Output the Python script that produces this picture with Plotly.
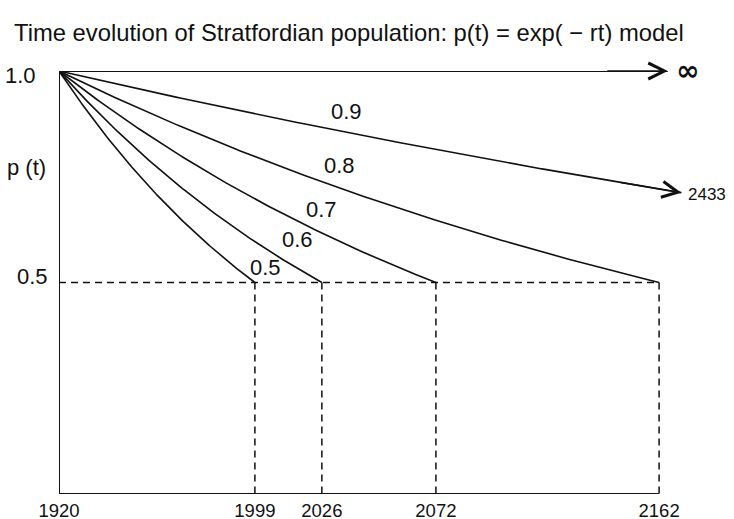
import numpy as np
import plotly.graph_objects as go

# ---------------- data ----------------
start_year = 1920
p_start = 1.0
p_half = 0.5
curve_labels = ["0.5", "0.6", "0.7", "0.8"]
half_years = [1999, 2026, 2072, 2162]          # year at which p(t) reaches 0.5
offchart_label = "0.9"
offchart_half_year = 2433                        # reaches 0.5 beyond the chart
infinite_label = "\u221e"                        # r = 0: p stays at 1.0
x_tick_years = [1920, 1999, 2026, 2072, 2162]
y_tick_vals = [1.0, 0.5]
y_tick_text = ["1.0", "0.5"]

# ---------------- drawing constants ----------------
FONT = "Liberation Sans"
INK = "#111111"
X_MAX = 2178.5        # right end of the x range
END_09 = 2171         # where the 0.9 curve's arrow stops
END_INF = 2165.5      # where the p = 1 arrow stops
DASH = "7px,5px"
W, H = 734, 519


def p_model(t, half_year):
    r = np.log(2) / (half_year - start_year)
    return p_start * np.exp(-r * (np.asarray(t, dtype=float) - start_year))


fig = go.Figure()

# dashed guides at p = 0.5
fig.add_trace(go.Scatter(x=[start_year, max(half_years)], y=[p_half, p_half], mode="lines",
                         line=dict(color=INK, width=1.5, dash=DASH), hoverinfo="skip"))
for T in half_years:
    fig.add_trace(go.Scatter(x=[T, T], y=[p_half, 0], mode="lines",
                             line=dict(color=INK, width=1.5, dash=DASH), hoverinfo="skip"))

# axes drawn as lines
fig.add_trace(go.Scatter(x=[start_year, start_year], y=[0, p_start], mode="lines",
                         line=dict(color=INK, width=2), hoverinfo="skip"))
fig.add_trace(go.Scatter(x=[start_year, max(half_years)], y=[0, 0], mode="lines",
                         line=dict(color=INK, width=2), hoverinfo="skip"))

# decay curves reaching 0.5 inside the chart
for lab, T in zip(curve_labels, half_years):
    t = np.linspace(start_year, T, 150)
    fig.add_trace(go.Scatter(x=t, y=p_model(t, T), mode="lines",
                             line=dict(color=INK, width=1.6), name=lab, hoverinfo="skip"))

# 0.9 curve (half-life beyond chart)
t9 = np.linspace(start_year, END_09, 150)
fig.add_trace(go.Scatter(x=t9, y=p_model(t9, offchart_half_year), mode="lines",
                         line=dict(color=INK, width=1.6), name=offchart_label, hoverinfo="skip"))

# p = 1 line (r = 0)
fig.add_trace(go.Scatter(x=[start_year, END_INF], y=[p_start, p_start], mode="lines",
                         line=dict(color=INK, width=2), hoverinfo="skip"))


# arrow heads
def arrow(x_end, y_fn):
    fig.add_annotation(x=x_end, y=y_fn(x_end), ax=x_end - 25, ay=y_fn(x_end - 25),
                       xref="x", yref="y", axref="x", ayref="y", text="",
                       showarrow=True, arrowhead=5, arrowsize=2.1, arrowwidth=1.5,
                       arrowcolor=INK, standoff=0)


arrow(END_09, lambda t: float(p_model(t, offchart_half_year)))
arrow(END_INF, lambda t: p_start)

fig.add_annotation(x=END_09, y=float(p_model(END_09, offchart_half_year)), text=str(offchart_half_year),
                   xref="x", yref="y", showarrow=False, xanchor="left", xshift=5, yshift=-2,
                   font=dict(family=FONT, size=17, color=INK))
fig.add_annotation(x=END_INF, y=p_start, text="<b>" + infinite_label + "</b>", xref="x", yref="y",
                   showarrow=False, xanchor="left", xshift=6, yshift=1,
                   font=dict(family="DejaVu Sans", size=28, color=INK))

# curve labels
label_years = {"0.6": 2016, "0.7": 2026, "0.8": 2033}
label_up = {"0.6": 29, "0.7": 24, "0.8": 22}
fig.add_annotation(x=half_years[0], y=p_half, text=curve_labels[0], xref="x", yref="y",
                   showarrow=False, xshift=11, yshift=15, font=dict(family=FONT, size=22, color=INK))
for lab, T in zip(curve_labels[1:], half_years[1:]):
    ly = label_years[lab]
    fig.add_annotation(x=ly, y=float(p_model(ly, T)), text=lab, xref="x", yref="y",
                       showarrow=False, yshift=label_up[lab], font=dict(family=FONT, size=22, color=INK))
fig.add_annotation(x=2036, y=float(p_model(2036, offchart_half_year)), text=offchart_label,
                   xref="x", yref="y", showarrow=False, yshift=21,
                   font=dict(family=FONT, size=22, color=INK))

# y labels
fig.add_annotation(x=start_year, y=y_tick_vals[0], text=y_tick_text[0], xref="x", yref="y",
                   showarrow=False, xanchor="right", xshift=-21, yshift=-4,
                   font=dict(family=FONT, size=22, color=INK))
fig.add_annotation(x=start_year, y=y_tick_vals[1], text=y_tick_text[1], xref="x", yref="y",
                   showarrow=False, xanchor="right", xshift=-9, yshift=6,
                   font=dict(family=FONT, size=22, color=INK))
fig.add_annotation(x=start_year, y=0.771, text="p (t)", xref="x", yref="y",
                   showarrow=False, xanchor="center", xshift=-33,
                   font=dict(family=FONT, size=22, color=INK))

fig.update_layout(
    width=W, height=H,
    margin=dict(l=59, r=34, t=71, b=25, autoexpand=False),
    paper_bgcolor="white", plot_bgcolor="white",
    showlegend=False,
    title=dict(text="Time evolution of Stratfordian population: p(t) = exp( \u2212 rt) model",
               x=14 / W, xref="container", xanchor="left",
               y=1 - 33 / H, yref="container", yanchor="middle",
               font=dict(family=FONT, size=23.8, color=INK)),
)
fig.update_xaxes(range=[start_year, X_MAX], tickvals=x_tick_years, automargin=False,
                 ticktext=[str(v) for v in x_tick_years], showgrid=False, zeroline=False,
                 showline=False, ticks="", ticklabelstandoff=3,
                 tickfont=dict(family=FONT, size=18.5, color=INK))
fig.update_yaxes(range=[0, 1.0], showgrid=False, zeroline=False, showline=False, automargin=False,
                 showticklabels=False, ticks="")
fig.update_traces(cliponaxis=False)

fig.write_html("out.html", config={"displayModeBar": False, "staticPlot": True},
               post_script="document.body.style.margin='0';")
